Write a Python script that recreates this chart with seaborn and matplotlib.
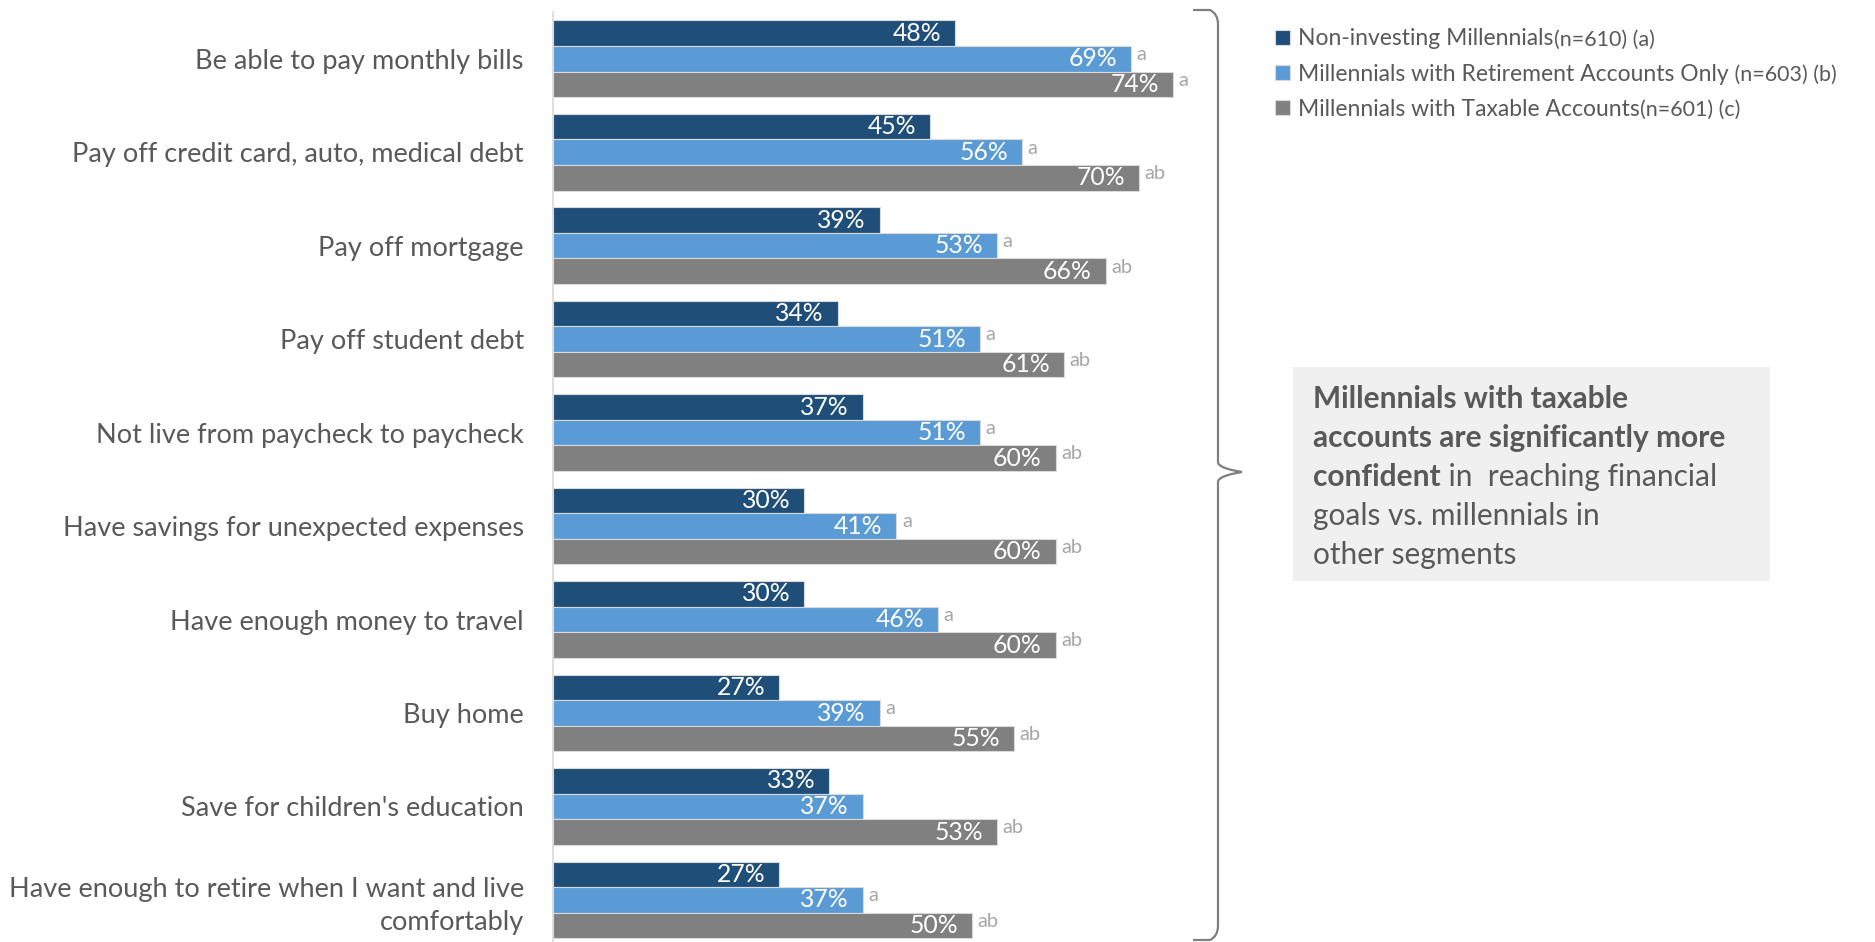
import matplotlib
matplotlib.use("Agg")
import matplotlib.pyplot as plt
from matplotlib.path import Path
from matplotlib.patches import PathPatch, Rectangle
import seaborn as sns
import pandas as pd

# Dados
categorias = [
    "Be able to pay monthly bills",
    "Pay off credit card, auto, medical debt",
    "Pay off mortgage",
    "Pay off student debt",
    "Not live from paycheck to paycheck",
    "Have savings for unexpected expenses",
    "Have enough money to travel",
    "Buy home",
    "Save for children's education",
    "Have enough to retire when I want and live\ncomfortably",
]
grupos = [
    "Non-investing Millennials",
    "Millennials with Retirement Accounts Only",
    "Millennials with Taxable Accounts",
]
amostras = ["(n=610) (a)", " (n=603) (b)", "(n=601) (c)"]
nao_investe = [48, 45, 39, 34, 37, 30, 30, 27, 33, 27]
aposentadoria = [69, 56, 53, 51, 51, 41, 46, 39, 37, 37]
tributavel = [74, 70, 66, 61, 60, 60, 60, 55, 53, 50]
sig_nao_investe = [""] * 10
sig_aposentadoria = ["a", "a", "a", "a", "a", "a", "a", "a", "", "a"]
sig_tributavel = ["a", "ab", "ab", "ab", "ab", "ab", "ab", "ab", "ab", "ab"]
cores = ["#1f4e79", "#5b9bd5", "#808080"]

texto_caixa = [
    [("Millennials with taxable", "bold")],
    [("accounts are significantly more", "bold")],
    [("confident", "bold"), (" in  reaching financial", "normal")],
    [("goals vs. millennials in", "normal")],
    [("other segments", "normal")],
]

df = pd.DataFrame({
    "categoria": categorias * 3,
    "grupo": [g for g in grupos for _ in categorias],
    "valor": nao_investe + aposentadoria + tributavel,
})

sns.set_style("white")
plt.rcParams["font.family"] = ["Lato", "DejaVu Sans"]
CINZA = "#595959"

W, H = 1875, 942
fig = plt.figure(figsize=(W / 100, H / 100), dpi=100)
ax = fig.add_axes([553 / W, 0.0, 670 / W, 1 - 12 / H])

sns.barplot(data=df, y="categoria", x="valor", hue="grupo", order=categorias,
            hue_order=grupos, palette=cores, orient="h", width=0.82,
            edgecolor="#d9d9d9", linewidth=0.8, saturation=1, ax=ax)

ax.set_xlim(0, 80)
ax.set_ylim(9.45, -0.5)
ax.set_xlabel("")
ax.set_ylabel("")
ax.set_xticks([])
sns.despine(ax=ax, top=True, right=True, bottom=True, left=False)
ax.spines["left"].set_color("#d9d9d9")
ax.spines["left"].set_linewidth(1.2)
ax.tick_params(axis="y", length=0, pad=21, labelsize=19.5, labelcolor=CINZA)
for lab in ax.get_yticklabels():
    lab.set_linespacing(1.4)

# rotulos de valor e de significancia
sigs = [sig_nao_investe, sig_aposentadoria, sig_tributavel]
for cont, sig in zip(ax.containers, sigs):
    for barra, letra in zip(cont, sig):
        x = barra.get_width()
        y = barra.get_y() + barra.get_height() / 2
        ax.annotate(f"{x:.0f}%", (x, y), xytext=(-10, 0), textcoords="offset points",
                    ha="right", va="center", color="white", fontsize=17.8)
        if letra:
            ax.annotate(letra, (x, y), xytext=(4, 3), textcoords="offset points",
                        ha="left", va="center", color="#a6a6a6", fontsize=14.5)

# legenda
sns.move_legend(ax, "upper left", bbox_to_anchor=(1264 / W, 1 - 17 / H),
                bbox_transform=fig.transFigure, frameon=False, title=None,
                fontsize=16.5, handlelength=0.62, handleheight=0.62,
                handletextpad=0.35, labelspacing=0.62, borderpad=0)
leg = ax.get_legend()
for t in leg.get_texts():
    t.set_color(CINZA)

# caixa de destaque
fig.patches.append(Rectangle((1293 / W, 1 - 581 / H), 477 / W, 214 / H,
                             transform=fig.transFigure, facecolor="#f0f0f0",
                             edgecolor="none", zorder=0))

# chave
xs, xp = 1218, 1242
pts = [(1193, 10), (1210, 10), (xs, 14), (xs, 24),
       (xs, 462), (xs, 468), (xp - 6, 471), (xp, 472),
       (xp - 6, 473), (xs, 476), (xs, 482),
       (xs, 926), (xs, 936), (1210, 940), (1193, 940)]
codes = [Path.MOVETO, Path.LINETO, Path.CURVE3, Path.CURVE3,
         Path.LINETO, Path.CURVE4, Path.CURVE4, Path.CURVE4,
         Path.CURVE4, Path.CURVE4, Path.CURVE4,
         Path.LINETO, Path.CURVE3, Path.CURVE3, Path.LINETO]
caminho = Path([(x / W, 1 - y / H) for x, y in pts], codes)
fig.patches.append(PathPatch(caminho, transform=fig.transFigure, fill=False,
                             edgecolor="#7f7f7f", linewidth=1.6))

fig.canvas.draw()
r = fig.canvas.get_renderer()

for t, amostra in zip(leg.get_texts(), amostras):
    bb = t.get_window_extent(r)
    fig.text((bb.x1 + 1) / W, (bb.y0 + bb.y1) / 2 / H - 0.001, amostra, fontsize=15.5,
             color=CINZA, ha="left", va="center")

y0 = 399
for linha in texto_caixa:
    x = 1313
    for pedaco, peso in linha:
        t = fig.text(x / W, 1 - y0 / H, pedaco, fontsize=21.5, fontweight=peso,
                     color=CINZA, ha="left", va="center")
        x = t.get_window_extent(r).x1
    y0 += 38.9

fig.savefig("out.png", dpi=100)
